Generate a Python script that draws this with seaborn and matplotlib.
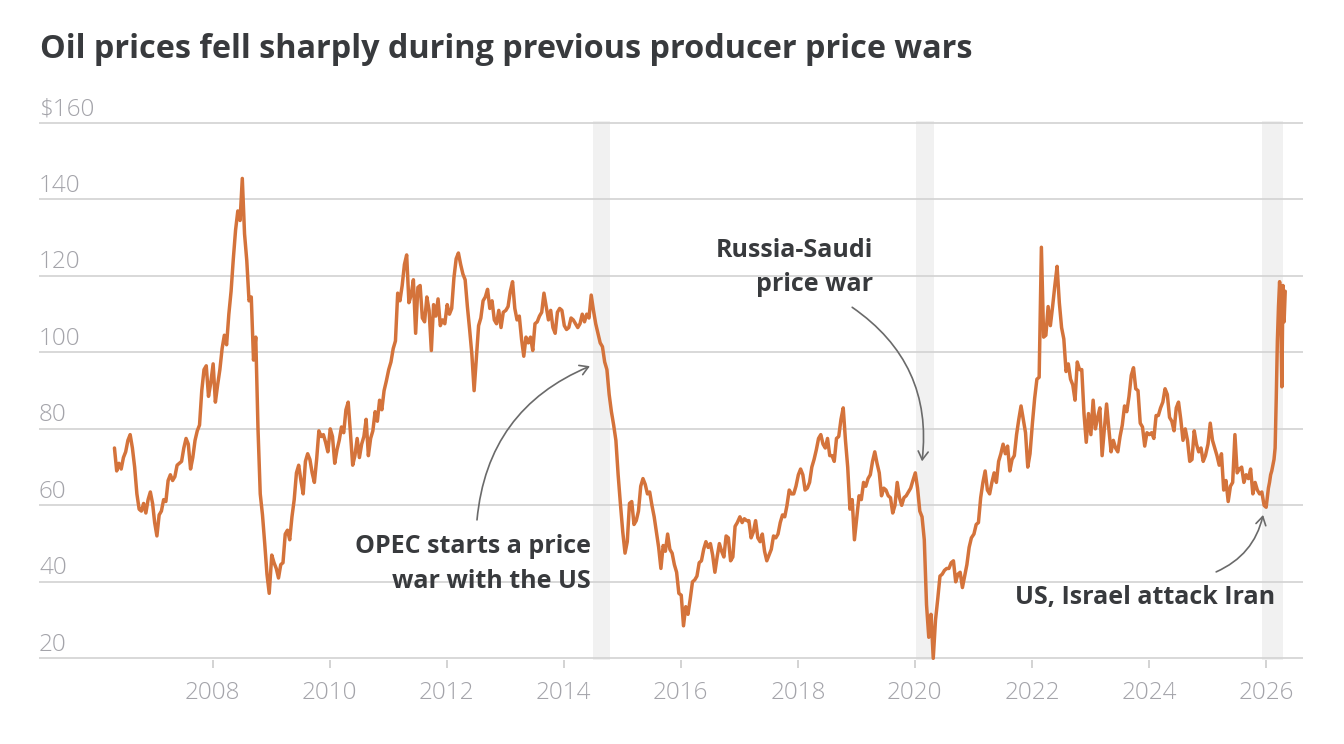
import numpy as np
import pandas as pd
import matplotlib
matplotlib.use("Agg")
import matplotlib.pyplot as plt
import matplotlib.transforms as mtransforms
import seaborn as sns

# ---------------- data (Brent, USD/bbl) ----------------
# 2006 starts late April, bi-weekly points; 2007-2025 bi-weekly from early Jan; 2026 weekly
p2006 = [75.0, 69.0, 71.0, 69.5, 72.5, 74.0, 77.0, 78.5, 75.0, 70.0, 63.0, 59.0, 58.5, 60.5, 58.0, 61.5, 63.5, 60.5]
p2007 = [55.5, 52.0, 57.5, 58.5, 61.5, 61.0, 66.5, 68.0, 66.5, 67.5, 70.5, 71.0, 71.5, 75.0, 77.5, 76.0, 69.5, 72.5, 77.0, 79.5, 81.0, 90.0, 95.5, 96.5, 88.5, 92.0]
p2008 = [97.0, 87.0, 91.5, 95.5, 101.0, 104.5, 102.0, 110.0, 116.0, 124.5, 132.0, 137.0, 134.5, 145.5, 131.0, 124.0, 113.5, 114.5, 98.0, 104.0, 80.0, 63.0, 57.5, 50.0, 42.0, 37.0]
p2009 = [47.0, 45.0, 43.5, 41.0, 44.5, 45.0, 52.5, 53.5, 51.0, 57.0, 61.5, 68.5, 70.5, 66.5, 63.0, 71.5, 73.5, 72.0, 68.5, 66.0, 72.0, 79.5, 78.0, 78.5, 76.5, 74.0]
p2010 = [80.0, 78.0, 71.0, 74.5, 77.0, 80.5, 79.0, 85.0, 87.0, 79.0, 70.5, 73.0, 77.5, 72.5, 76.0, 78.0, 82.5, 73.0, 77.5, 79.5, 84.5, 82.0, 87.5, 85.0, 90.0, 92.5]
p2011 = [95.5, 97.5, 101.0, 103.0, 115.5, 113.5, 117.5, 123.0, 125.5, 113.0, 115.0, 119.0, 105.0, 117.0, 117.5, 109.0, 108.0, 114.5, 111.0, 100.5, 112.5, 109.5, 114.0, 107.0, 108.5, 107.5]
p2012 = [112.5, 110.0, 111.5, 119.5, 124.5, 126.0, 123.0, 120.5, 119.0, 112.0, 106.0, 99.5, 90.0, 98.5, 107.0, 109.0, 113.5, 114.5, 116.5, 111.5, 113.5, 108.5, 107.5, 111.0, 106.5, 110.5]
p2013 = [111.0, 112.0, 116.0, 118.5, 111.5, 108.5, 109.5, 103.5, 99.0, 104.0, 102.5, 104.0, 100.5, 107.5, 108.0, 109.5, 110.5, 115.5, 112.0, 108.5, 111.0, 106.5, 105.0, 110.5, 111.5, 111.0]
p2014 = [107.0, 106.0, 106.5, 109.0, 108.5, 107.5, 106.5, 107.5, 110.0, 108.0, 110.0, 109.0, 115.0, 111.0, 107.5, 105.0, 102.5, 101.5, 97.5, 95.5, 89.0, 84.5, 81.0, 77.0, 68.0, 60.5]
p2015 = [53.0, 47.5, 50.5, 60.5, 61.0, 55.0, 56.0, 58.5, 65.0, 67.0, 65.5, 63.0, 63.5, 60.0, 57.0, 53.0, 49.0, 43.5, 49.5, 48.0, 52.5, 48.5, 47.5, 44.5, 42.5, 37.0]
p2016 = [36.5, 28.5, 33.5, 31.5, 35.5, 40.0, 40.5, 41.5, 45.0, 45.5, 48.5, 50.5, 49.0, 50.0, 47.0, 42.5, 46.5, 50.0, 48.0, 46.5, 52.0, 51.5, 45.5, 46.5, 54.5, 55.5]
p2017 = [57.0, 55.5, 56.5, 56.0, 56.0, 51.5, 53.0, 56.0, 51.5, 50.5, 52.5, 48.0, 45.5, 47.0, 48.5, 52.0, 51.5, 52.5, 55.5, 57.5, 57.0, 60.0, 64.0, 63.0, 63.0, 65.0]
p2018 = [68.0, 69.5, 68.0, 64.0, 64.5, 66.0, 70.0, 72.0, 74.5, 77.5, 78.5, 76.0, 75.0, 77.5, 73.0, 73.0, 71.5, 77.5, 78.0, 82.5, 85.5, 77.0, 70.0, 59.0, 61.5, 51.0]
p2019 = [57.0, 62.5, 61.5, 66.0, 65.0, 67.0, 68.0, 71.5, 74.0, 71.0, 68.5, 62.5, 64.5, 64.0, 62.5, 62.0, 58.0, 60.0, 66.0, 62.0, 60.0, 62.0, 62.5, 63.5, 64.5, 66.5]
p2020 = [68.5, 64.5, 58.5, 57.0, 51.0, 34.0, 25.5, 31.5, 20.0, 30.0, 35.5, 41.5, 42.0, 43.0, 43.5, 43.5, 45.0, 45.5, 40.0, 42.0, 42.5, 38.5, 41.5, 44.5, 49.0, 51.5]
p2021 = [52.5, 55.0, 55.5, 62.0, 66.0, 69.0, 64.0, 63.0, 66.0, 68.5, 66.0, 71.5, 73.5, 76.0, 73.5, 75.5, 69.0, 72.0, 73.0, 78.5, 82.5, 86.0, 82.5, 79.0, 70.0, 73.5]
p2022 = [81.5, 88.0, 93.0, 93.5, 127.5, 104.0, 104.5, 112.0, 107.0, 112.0, 117.5, 122.5, 113.0, 106.5, 103.5, 95.0, 97.0, 93.0, 91.5, 87.5, 97.5, 95.5, 95.5, 84.0, 76.5, 84.0]
p2023 = [78.5, 87.5, 80.0, 83.0, 85.5, 73.0, 80.0, 86.5, 80.0, 74.0, 77.0, 75.0, 74.0, 78.0, 81.0, 86.0, 84.5, 88.5, 94.0, 96.0, 90.5, 90.0, 81.5, 80.5, 75.5, 79.0]
p2024 = [78.5, 79.0, 77.5, 83.5, 83.5, 85.5, 87.0, 90.5, 89.0, 83.0, 82.0, 79.5, 85.5, 87.0, 82.5, 77.0, 80.0, 77.0, 71.5, 72.0, 79.5, 76.0, 74.0, 75.0, 71.5, 73.0]
p2025 = [76.0, 81.5, 77.0, 75.0, 73.0, 70.5, 73.5, 64.0, 66.5, 61.0, 65.0, 66.0, 78.5, 68.5, 69.5, 70.0, 66.0, 68.0, 67.0, 69.5, 63.0, 66.0, 64.0, 63.0, 63.5, 60.0]
p2026 = [59.5, 62.0, 64.5, 66.0, 68.0, 69.0, 70.5, 72.0, 75.0, 88.0, 103.0, 112.0, 118.5, 110.0, 91.0, 117.5, 108.0, 116.0]

war_starts = ["2014-06-30", "2020-01-08", "2025-12-10"]
war_ends = ["2014-10-18", "2020-04-30", "2026-04-20"]

y_ticks = [20, 40, 60, 80, 100, 120, 140, 160]
y_labels = ["20", "40", "60", "80", "100", "120", "140", "$160"]
x_years = [2008, 2010, 2012, 2014, 2016, 2018, 2020, 2022, 2024, 2026]

title = "Oil prices fell sharply during previous producer price wars"

# ---------------- build dataframe ----------------
parts = [pd.DataFrame({"date": pd.date_range("2006-04-28", periods=len(p2006), freq="14D"),
                       "price": p2006})]
for yr, vals in zip(range(2007, 2026),
                    [p2007, p2008, p2009, p2010, p2011, p2012, p2013, p2014, p2015, p2016,
                     p2017, p2018, p2019, p2020, p2021, p2022, p2023, p2024, p2025]):
    parts.append(pd.DataFrame({"date": pd.date_range(f"{yr}-01-04", periods=len(vals), freq="14D"),
                               "price": vals}))
parts.append(pd.DataFrame({"date": pd.date_range("2026-01-02", periods=len(p2026), freq="7D"),
                           "price": p2026}))
df = pd.concat(parts, ignore_index=True)

# ---------------- figure ----------------
sns.set_theme(style="white")
plt.rcParams["font.family"] = ["Open Sans", "DejaVu Sans"]

W, H = 1344, 744
fig = plt.figure(figsize=(W / 100, H / 100), dpi=100)
fig.patch.set_facecolor("white")

px_per_unit = (658.3 - 123.0) / 140.0
ylo, yhi = 19.6, 160.4
bottom_px = 658.3 + (20 - ylo) * px_per_unit
top_px = 123.0 - (yhi - 160) * px_per_unit
ax = fig.add_axes([39 / W, 1 - bottom_px / H, (1303 - 39) / W, (bottom_px - top_px) / H])

line_color = "#d4733b"
text_dark = "#383a3d"
grid_color = "#d2d2d2"
label_grey = "#a4a4aa"
tick_font = ["Open Sans", "DejaVu Sans"]

for s, e in zip(war_starts, war_ends):
    ax.axvspan(pd.Timestamp(s), pd.Timestamp(e), color="#f1f1f1", lw=0, zorder=0)

sns.lineplot(data=df, x="date", y="price", ax=ax, color=line_color, lw=2.5, zorder=3)

ax.set_xlim(pd.Timestamp("2005-01-12"), pd.Timestamp("2026-08-20"))
ax.set_ylim(ylo, yhi)
ax.set_xlabel("")
ax.set_ylabel("")
for sp in ax.spines.values():
    sp.set_visible(False)

ax.set_yticks(y_ticks)
ax.yaxis.grid(True, color=grid_color, lw=1.2)
ax.xaxis.grid(False)
ax.set_axisbelow(True)
ax.tick_params(axis="y", length=0, labelleft=False)

ax.set_xticks([pd.Timestamp(f"{y}-01-01") for y in x_years])
ax.set_xticklabels([str(y) for y in x_years])
ax.tick_params(axis="x", bottom=True, length=6, width=1.1, color="#c8c8c8",
               labelsize=17.5, labelcolor=label_grey, pad=9)
for lab in ax.get_xticklabels():
    lab.set_family(tick_font)
    lab.set_fontweight("light")

# y labels sitting above gridlines
trans = mtransforms.blended_transform_factory(ax.transAxes, ax.transData)
for v, lab in zip(y_ticks, y_labels):
    t = ax.text(0.0, v, lab, transform=trans, ha="left", va="baseline",
                fontsize=17.5, color=label_grey, family=tick_font, fontweight="light")
    t.set_transform(trans + mtransforms.ScaledTranslation(0, 5.5 / 72, fig.dpi_scale_trans))

# title
fig.text(40 / W, 1 - 58 / H, title, fontsize=23.3, fontweight="bold", color=text_dark,
         ha="left", va="baseline")

# annotations
ann_fs = 18
ax.text(pd.Timestamp("2014-06-21"), 47.5, "OPEC starts a price", ha="right", va="baseline",
        fontsize=ann_fs, fontweight="bold", color=text_dark, zorder=5)
ax.text(pd.Timestamp("2014-06-21"), 38.4, "war with the US", ha="right", va="baseline",
        fontsize=ann_fs, fontweight="bold", color=text_dark, zorder=5)
ax.text(pd.Timestamp("2019-04-15"), 125.0, "Russia-Saudi", ha="right", va="baseline",
        fontsize=ann_fs, fontweight="bold", color=text_dark, zorder=5)
ax.text(pd.Timestamp("2019-04-15"), 116.0, "price war", ha="right", va="baseline",
        fontsize=ann_fs, fontweight="bold", color=text_dark, zorder=5)
ax.text(pd.Timestamp("2026-02-28"), 34.3, "US, Israel attack Iran", ha="right", va="baseline",
        fontsize=ann_fs, fontweight="bold", color=text_dark, zorder=5)

arrow_kw = dict(arrowstyle="->,head_length=0.5,head_width=0.3", color="#6a6a6a", lw=1.2,
                shrinkA=0, shrinkB=0)
ax.annotate("", xy=(pd.Timestamp("2014-06-13"), 96.4), xytext=(pd.Timestamp("2012-07-08"), 56.2),
            arrowprops=dict(connectionstyle="arc3,rad=-0.3", **arrow_kw), zorder=6)
ax.annotate("", xy=(pd.Timestamp("2020-02-15"), 71.5), xytext=(pd.Timestamp("2018-12-06"), 111.8),
            arrowprops=dict(connectionstyle="arc3,rad=-0.3", **arrow_kw), zorder=6)
ax.annotate("", xy=(pd.Timestamp("2025-12-14"), 57.5), xytext=(pd.Timestamp("2025-02-24"), 42.6),
            arrowprops=dict(connectionstyle="arc3,rad=0.25", **arrow_kw), zorder=6)

fig.savefig("out.png", dpi=100, facecolor="white")
